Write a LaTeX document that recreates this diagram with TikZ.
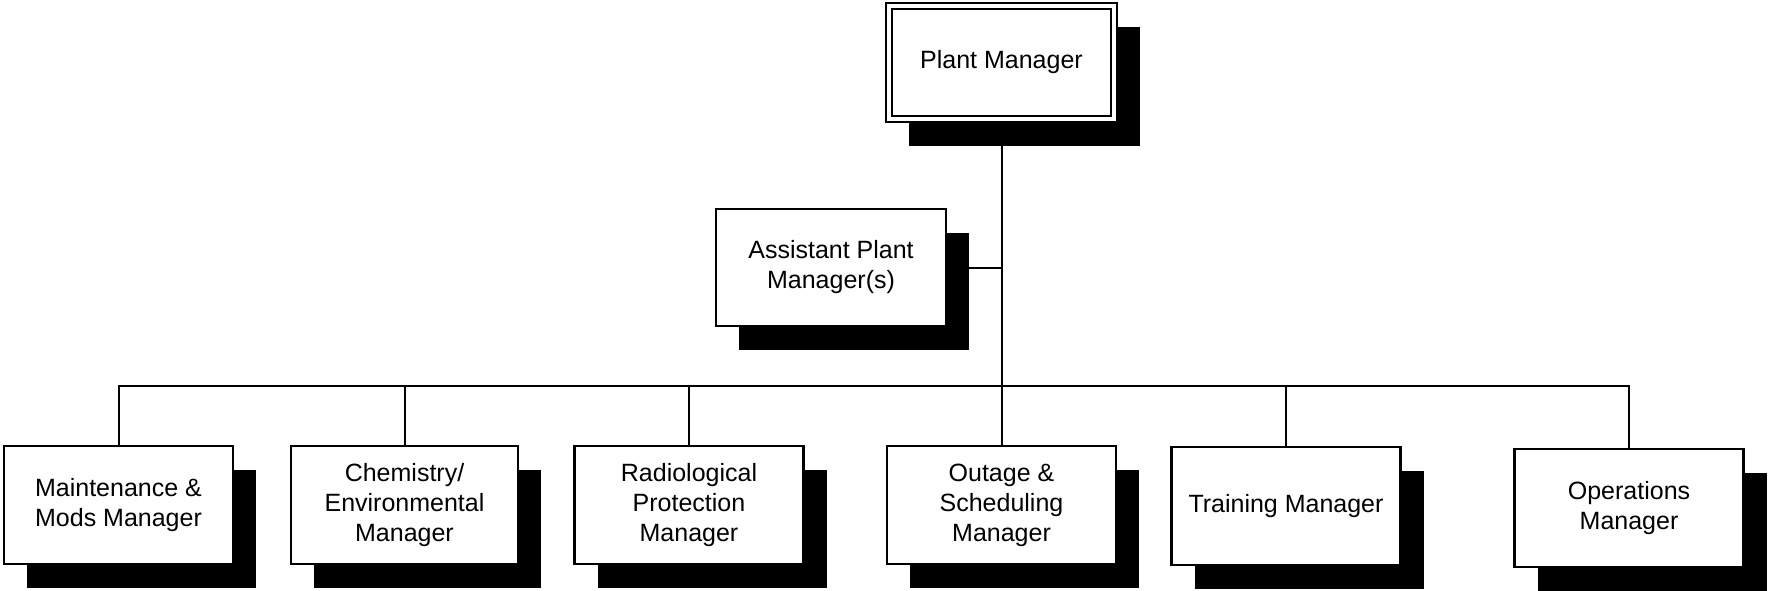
\documentclass[tikz,border=0pt]{standalone}
\usepackage{fontspec}
\setmainfont{Liberation Sans}
\usetikzlibrary{shadows}
\begin{document}
\begin{tikzpicture}[x=1pt,y=-1pt,
  role/.style={draw,fill=white,line width=2.4pt,inner sep=0pt,
    minimum width=229pt,minimum height=118pt,align=center,
    font=\fontsize{25}{30}\selectfont,
    general shadow={fill=black,shadow xshift=23pt,shadow yshift=-24pt}},
  link/.style={line width=2pt}]
\useasboundingbox (0,0) rectangle (1769,591);

% top of the chart
\node[role,minimum width=231pt,minimum height=119pt] (pm) at (1001.5,62.5) {Plant Manager};
\draw[line width=2pt] ([shift={(7pt,7pt)}]pm.south west) rectangle ([shift={(-7pt,-7pt)}]pm.north east);
\node[role,minimum width=230pt,minimum height=117pt] (apm) at (831,267.5) {Assistant Plant\\Manager(s)};

% department managers
\node[role] (b1) at (118.5,505) {Maintenance \&\\Mods Manager};
\node[role,minimum width=227pt] (b2) at (404.5,505) {Chemistry/\\Environmental\\Manager};
\node[role] (b3) at (689,505) {Radiological\\Protection\\Manager};
\node[role] (b4) at (1001.5,505) {Outage \&\\Scheduling\\Manager};
\node[role] (b5) at (1286,506) {Training Manager};
\node[role] (b6) at (1629,508) {Operations\\Manager};

% reporting lines
\coordinate (bus) at (0,386);
\draw[link] (pm.south) -- (b4.north);
\draw[link] (apm.east) -- (apm.east -| pm.south);
\draw[link] (b1.north) -- (b1.north |- bus) -- (b6.north |- bus) -- (b6.north);
\foreach \b in {b2,b3,b5}
  \draw[link] (\b.north) -- (\b.north |- bus);
\end{tikzpicture}
\end{document}
